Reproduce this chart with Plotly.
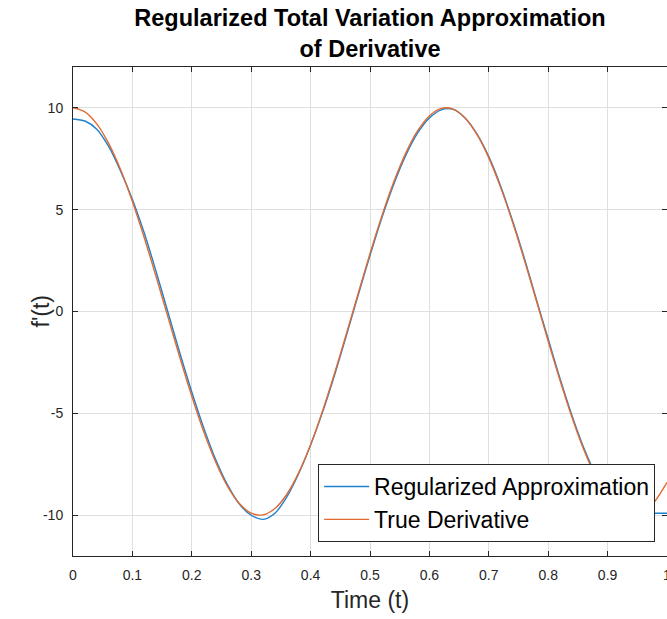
import plotly.graph_objects as go

# Time samples (s)
t = [0.00, 0.02, 0.04, 0.06, 0.08, 0.10, 0.12, 0.14, 0.16, 0.18,
     0.20, 0.22, 0.24, 0.26, 0.28, 0.30, 0.32, 0.34, 0.36, 0.38,
     0.40, 0.42, 0.44, 0.46, 0.48, 0.50, 0.52, 0.54, 0.56, 0.58,
     0.60, 0.62, 0.64, 0.66, 0.68, 0.70, 0.72, 0.74, 0.76, 0.78,
     0.80, 0.82, 0.84, 0.86, 0.88, 0.90, 0.92, 0.94, 0.96, 0.98, 1.00]

# Regularized TV approximation
approx = [9.45, 9.35, 8.95, 8.10, 6.90, 5.50, 3.85, 1.95, -0.05, -2.05,
          -3.95, -5.70, -7.25, -8.50, -9.45, -10.00, -10.20, -9.90, -9.10, -7.95,
          -6.55, -4.95, -3.15, -1.20, 0.80, 2.75, 4.60, 6.25, 7.65, 8.75,
          9.50, 9.90, 9.92, 9.50, 8.72, 7.60, 6.15, 4.45, 2.60, 0.60,
          -1.35, -3.30, -5.10, -6.70, -8.00, -9.00, -9.60, -9.85, -9.90, -9.90, -9.90]

# True derivative
true_deriv = [10.00, 9.80, 9.21, 8.25, 6.97, 5.40, 3.62, 1.70, -0.29, -2.27,
              -4.16, -5.89, -7.37, -8.57, -9.42, -9.90, -9.98, -9.67, -8.97, -7.91,
              -6.54, -4.90, -3.07, -1.12, 0.87, 2.84, 4.69, 6.35, 7.76, 8.86,
              9.60, 9.97, 9.93, 9.50, 8.69, 7.54, 6.08, 4.39, 2.51, 0.54,
              -1.46, -3.39, -5.19, -6.79, -8.11, -9.11, -9.75, -10.00, -9.85, -9.30, -8.39]

x_ticks = [0, 0.1, 0.2, 0.3, 0.4, 0.5, 0.6, 0.7, 0.8, 0.9, 1]
x_tick_text = ["0", "0.1", "0.2", "0.3", "0.4", "0.5", "0.6", "0.7", "0.8", "0.9", "1"]
y_ticks = [-10, -5, 0, 5, 10]
y_tick_text = ["-10", "-5", "0", "5", "10"]

FONT = "Liberation Sans, Arial, Helvetica, sans-serif"
AX = "#262626"
GRID = "#dfdfdf"

fig = go.Figure()
fig.add_trace(go.Scatter(x=t, y=approx, mode="lines", name="Regularized Approximation",
                         line=dict(color="#1f80cc", width=1.4, shape="spline", smoothing=0.8)))
fig.add_trace(go.Scatter(x=t, y=true_deriv, mode="lines", name="True Derivative",
                         line=dict(color="#e06a32", width=1.4, shape="spline", smoothing=0.8)))

fig.update_layout(
    width=667, height=619,
    margin=dict(l=73, r=0, t=67, b=63),
    paper_bgcolor="white", plot_bgcolor="white",
    font=dict(family=FONT, color=AX),
    title=dict(text="<b>Regularized Total Variation Approximation<br>of Derivative</b>",
               x=0.5, xref="paper", xanchor="center",
               y=1 - 26 / 619, yref="container", yanchor="top",
               font=dict(size=23.5, color="black", family=FONT)),
    showlegend=True,
    legend=dict(x=0.98, y=0.0286, xanchor="right", yanchor="bottom",
                bgcolor="white", bordercolor=AX, borderwidth=1,
                font=dict(size=23, color="black", family=FONT),
                itemwidth=45, tracegroupgap=0),
    xaxis=dict(range=[0, 1], tickvals=x_ticks, ticktext=x_tick_text, automargin=False,
               showgrid=True, gridcolor=GRID, gridwidth=1, zeroline=False,
               showline=True, linecolor=AX, linewidth=1, mirror="allticks",
               ticks="inside", ticklen=5, tickcolor=AX, ticklabeloverflow="allow",
               tickfont=dict(size=14, color=AX), ticklabelstandoff=6,
               title=dict(text="Time (t)", font=dict(size=23, color=AX), standoff=10)),
    yaxis=dict(range=[-12, 12], tickvals=y_ticks, ticktext=y_tick_text, automargin=False,
               showgrid=True, gridcolor=GRID, gridwidth=1, zeroline=False,
               showline=True, linecolor=AX, linewidth=1, mirror="allticks",
               ticks="inside", ticklen=5, tickcolor=AX,
               tickfont=dict(size=14, color=AX), ticklabelstandoff=6),
    annotations=[dict(text="f'(t)", textangle=-90, showarrow=False,
                      xref="paper", yref="paper", x=-33 / 594, y=0.5,
                      xanchor="center", yanchor="middle",
                      font=dict(size=23, color=AX, family=FONT))],
)

fig.write_html("out.html", config={"displayModeBar": False},
               post_script="document.body.style.margin='0';document.body.style.overflow='hidden';")
